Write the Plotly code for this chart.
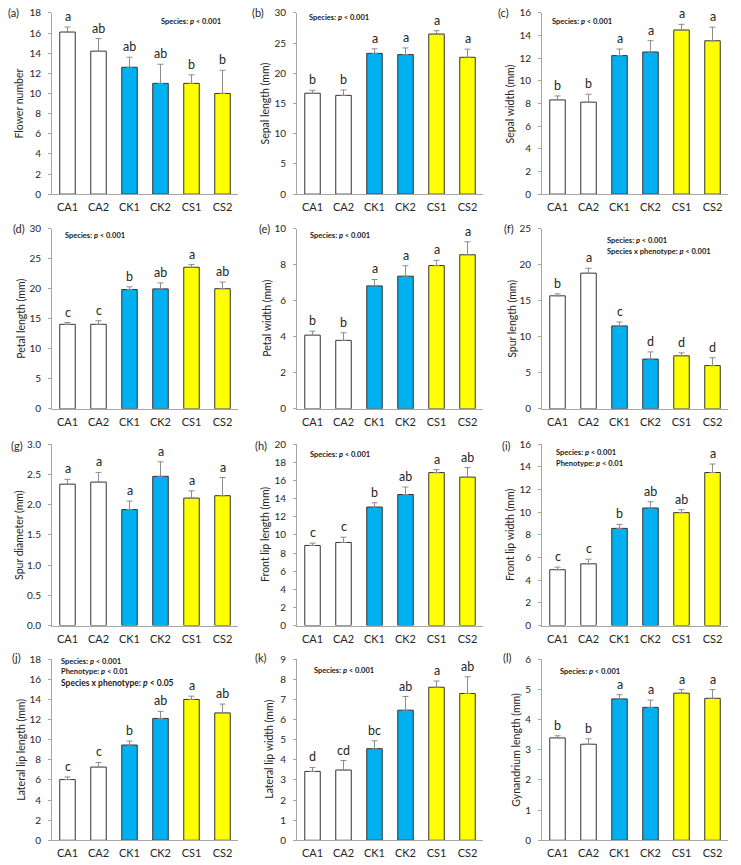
import plotly.graph_objects as go

# ---------------- data ----------------
categories = ["CA1", "CA2", "CK1", "CK2", "CS1", "CS2"]
bar_colors = ["#ffffff", "#ffffff", "#00b0f0", "#00b0f0", "#ffff00", "#ffff00"]

flower_number = [16.1, 14.2, 12.6, 11.0, 11.0, 10.0]
flower_number_err = [0.5, 1.25, 1.0, 1.9, 0.85, 2.3]
flower_number_letters = ["a", "ab", "ab", "ab", "b", "b"]

sepal_length = [16.7, 16.35, 23.3, 23.1, 26.5, 22.65]
sepal_length_err = [0.5, 0.9, 0.75, 1.1, 0.55, 1.35]
sepal_length_letters = ["b", "b", "a", "a", "a", "a"]

sepal_width = [8.32, 8.12, 12.23, 12.55, 14.49, 13.54]
sepal_width_err = [0.35, 0.7, 0.58, 1.0, 0.5, 1.2]
sepal_width_letters = ["b", "b", "a", "a", "a", "a"]

petal_length = [14.07, 14.07, 19.86, 19.97, 23.57, 20.0]
petal_length_err = [0.3, 0.6, 0.45, 1.0, 0.45, 1.1]
petal_length_letters = ["c", "c", "b", "ab", "a", "ab"]

petal_width = [4.09, 3.8, 6.82, 7.36, 7.95, 8.55]
petal_width_err = [0.22, 0.42, 0.36, 0.58, 0.29, 0.72]
petal_width_letters = ["b", "b", "a", "a", "a", "a"]

spur_length = [15.68, 18.82, 11.5, 6.9, 7.36, 6.0]
spur_length_err = [0.27, 0.68, 0.55, 1.0, 0.41, 1.09]
spur_length_letters = ["b", "a", "c", "d", "d", "d"]

spur_diameter = [2.34, 2.375, 1.92, 2.47, 2.11, 2.15]
spur_diameter_err = [0.08, 0.16, 0.14, 0.24, 0.12, 0.30]
spur_diameter_letters = ["a", "a", "a", "a", "a", "a"]

front_lip_length = [8.84, 9.17, 13.08, 14.46, 16.88, 16.38]
front_lip_length_err = [0.25, 0.58, 0.47, 0.83, 0.33, 1.05]
front_lip_length_letters = ["c", "c", "b", "ab", "a", "ab"]

front_lip_width = [4.93, 5.45, 8.58, 10.38, 9.97, 13.51]
front_lip_width_err = [0.23, 0.41, 0.35, 0.55, 0.26, 0.75]
front_lip_width_letters = ["c", "c", "b", "ab", "ab", "a"]

lateral_lip_length = [6.03, 7.27, 9.46, 12.1, 13.99, 12.65]
lateral_lip_length_err = [0.26, 0.46, 0.39, 0.71, 0.32, 0.88]
lateral_lip_length_letters = ["c", "c", "b", "ab", "a", "ab"]

lateral_lip_width = [3.42, 3.49, 4.55, 6.46, 7.6, 7.29]
lateral_lip_width_err = [0.2, 0.47, 0.39, 0.68, 0.31, 0.83]
lateral_lip_width_letters = ["d", "cd", "bc", "ab", "a", "ab"]

gynandrium_length = [3.39, 3.18, 4.68, 4.4, 4.87, 4.7]
gynandrium_length_err = [0.07, 0.18, 0.14, 0.24, 0.12, 0.29]
gynandrium_length_letters = ["b", "b", "a", "a", "a", "a"]

panel_tags = ["(a)", "(b)", "(c)", "(d)", "(e)", "(f)", "(g)", "(h)", "(i)", "(j)", "(k)", "(l)"]
y_titles = ["Flower number", "Sepal length (mm)", "Sepal width (mm)",
            "Petal length (mm)", "Petal width (mm)", "Spur length (mm)",
            "Spur diameter (mm)", "Front lip length (mm)", "Front lip width (mm)",
            "Lateral lip length (mm)", "Lateral lip width (mm)", "Gynandrium length (mm)"]
y_max = [18, 30, 16, 30, 10, 25, 3.0, 20, 16, 18, 9, 6]
y_step = [2, 5, 2, 5, 2, 5, 0.5, 2, 2, 2, 1, 1]

series = [
    (flower_number, flower_number_err, flower_number_letters),
    (sepal_length, sepal_length_err, sepal_length_letters),
    (sepal_width, sepal_width_err, sepal_width_letters),
    (petal_length, petal_length_err, petal_length_letters),
    (petal_width, petal_width_err, petal_width_letters),
    (spur_length, spur_length_err, spur_length_letters),
    (spur_diameter, spur_diameter_err, spur_diameter_letters),
    (front_lip_length, front_lip_length_err, front_lip_length_letters),
    (front_lip_width, front_lip_width_err, front_lip_width_letters),
    (lateral_lip_length, lateral_lip_length_err, lateral_lip_length_letters),
    (lateral_lip_width, lateral_lip_width_err, lateral_lip_width_letters),
    (gynandrium_length, gynandrium_length_err, gynandrium_length_letters),
]

SP = "<b>Species: <i>p</i> &lt; 0.001</b>"
stats_text = [
    [SP], [SP], [SP],
    [SP], [SP], [SP, "<b>Species x phenotype: <i>p</i> &lt; 0.001</b>"],
    [], [SP], [SP, "<b>Phenotype: <i>p</i> &lt; 0.01</b>"],
    [SP, "<b>Phenotype: <i>p</i> &lt; 0.01</b>", "<b>Species x phenotype: <i>p</i> &lt; 0.05</b>"],
    [SP], [SP],
]

# ---------------- layout geometry (pixels) ----------------
W, H = 741, 865
FONT = "Lato, Carlito, Calibri, sans-serif"
col_px = [(52, 238), (297, 483), (542, 728)]
row_px = [(6, 190), (225, 408), (444, 628), (662, 846)]

tag_pos = [(13, 6), (258, 6), (503, 6),
           (19, 225), (264, 225), (509, 225),
           (17, 445), (261, 445), (506, 445),
           (16, 660), (261, 660), (507, 660)]
ytitle_x = [19, 265, 510, 21, 267, 512, 19, 265, 510, 21, 269, 516]
stats_pos = [[(159, 15)], [(307, 11)], [(550, 15)],
             [(63, 232)], [(308, 232)], [(605, 237), (605, 248)],
             [], [(308, 454)], [(554, 452), (554, 463)],
             [(59, 664), (59, 675), (59, 686)], [(312, 674)], [(558, 675)]]


def fx(p):
    return p / W


def fy(p):
    return 1 - p / H


fig = go.Figure()
annotations = []
layout_axes = {}

for i in range(12):
    r, c = divmod(i, 3)
    n = i + 1
    xn = "x" if n == 1 else f"x{n}"
    yn = "y" if n == 1 else f"y{n}"
    vals, errs, letters = series[i]

    fig.add_trace(go.Bar(
        x=categories, y=vals, xaxis=xn, yaxis=yn, width=0.5,
        marker=dict(color=bar_colors, line=dict(color="#333333", width=1)),
        error_y=dict(type="data", symmetric=False, array=errs,
                     arrayminus=[0] * len(errs), color="#8c8c8c",
                     thickness=1, width=3),
        showlegend=False, hoverinfo="x+y",
    ))

    x0, x1 = col_px[c]
    y0, y1 = row_px[r]
    layout_axes["xaxis" if n == 1 else f"xaxis{n}"] = dict(
        domain=[fx(x0), fx(x1)], anchor=yn, type="category",
        range=[-0.5, 5.5], showline=True, linecolor="#a6a6a6", linewidth=1,
        ticks="", showgrid=False, zeroline=False, ticklabelstandoff=3,
        tickfont=dict(family=FONT, size=11, color="#262626"),
    )
    layout_axes["yaxis" if n == 1 else f"yaxis{n}"] = dict(
        domain=[fy(y1), fy(y0)], anchor=xn, range=[0, y_max[i]],
        dtick=y_step[i], tick0=0, showline=True, linecolor="#a6a6a6",
        linewidth=1, ticks="outside", ticklen=3, tickcolor="#a6a6a6",
        showgrid=False, zeroline=False, ticklabelstandoff=5,
        tickformat=".1f" if y_step[i] < 1 else "d",
        tickfont=dict(family=FONT, size=10, color="#262626"),
    )

    # significance letters
    for cat, v, e, L in zip(categories, vals, errs, letters):
        annotations.append(dict(
            x=cat, y=v + e, xref=xn, yref=yn, text=L, showarrow=False,
            yanchor="bottom", xanchor="center", yshift=1,
            font=dict(family=FONT, size=12.5, color="#262626"),
        ))

    # panel tag
    tx, ty = tag_pos[i]
    annotations.append(dict(
        x=fx(tx), y=fy(ty), xref="paper", yref="paper", text=panel_tags[i],
        showarrow=False, xanchor="center", yanchor="middle",
        font=dict(family=FONT, size=11, color="#262626"),
    ))

    # y-axis title
    annotations.append(dict(
        x=fx(ytitle_x[i]), y=fy((y0 + y1) / 2), xref="paper", yref="paper",
        text=y_titles[i], textangle=-90, showarrow=False,
        xanchor="center", yanchor="middle",
        font=dict(family=FONT, size=10.5, color="#262626"),
    ))

    # statistics text
    for k, (txt, (sx, sy)) in enumerate(zip(stats_text[i], stats_pos[i])):
        size = 7.5
        if i == 9 and k == 2:
            size = 8.5
        annotations.append(dict(
            x=fx(sx), y=fy(sy), xref="paper", yref="paper", text=txt,
            showarrow=False, xanchor="left", yanchor="middle",
            font=dict(family=FONT, size=size, color="#1a1a1a"),
        ))

fig.update_layout(
    width=W, height=H, margin=dict(l=0, r=0, t=0, b=0),
    paper_bgcolor="white", plot_bgcolor="white",
    annotations=annotations, bargap=0.5, **layout_axes,
)

fig.write_html("out.html")
